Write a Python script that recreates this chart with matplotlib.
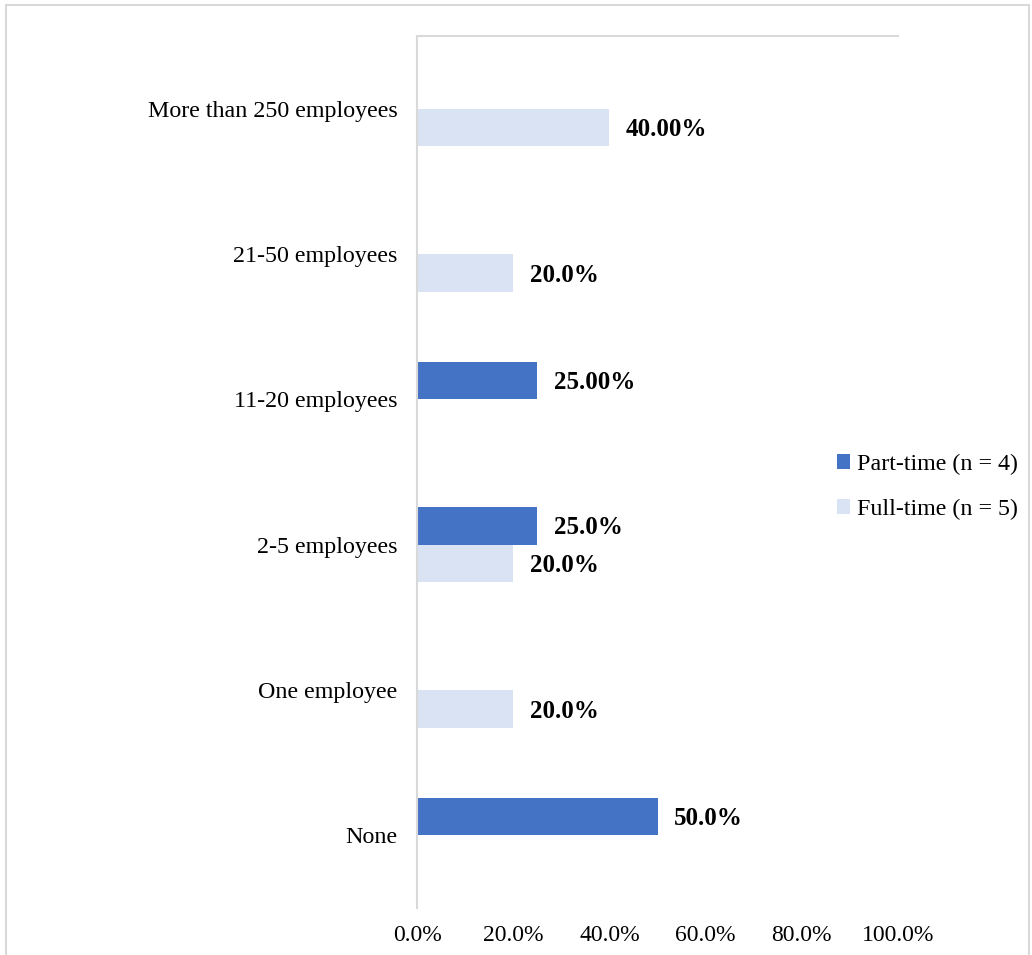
import numpy as np
import matplotlib.pyplot as plt
from matplotlib.patches import Rectangle

plt.rcParams['font.family'] = ['Liberation Serif', 'DejaVu Serif']

# Data (bottom to top)
categories = ['None', 'One employee', '2-5 employees', '11-20 employees',
              '21-50 employees', 'More than 250 employees']
part_time = [50, 0, 25, 25, 0, 0]
full_time = [0, 20, 20, 0, 20, 40]
part_labels = ['50.0%', '', '25.0%', '25.00%', '', '']
full_labels = ['', '20.0%', '20.0%', '', '20.0%', '40.00%']
x_ticks = [0, 20, 40, 60, 80, 100]
x_tick_labels = ['0.0%', '20.0%', '40.0%', '60.0%', '80.0%', '100.0%']

dark = '#4472C4'
light = '#DAE3F3'

fig = plt.figure(figsize=(10.32, 9.55), dpi=100)
ax = fig.add_axes([417 / 1032, 1 - 908 / 955, (898 - 417) / 1032, (908 - 36) / 955])

y = np.arange(len(categories))
h = 0.26
ax.barh(y + h / 2, part_time, height=h, color=dark, label='Part-time (n = 4)')
ax.barh(y - h / 2, full_time, height=h, color=light, label='Full-time (n = 5)')

for i in range(len(categories)):
    if part_labels[i]:
        ax.text(part_time[i] + 3.4, y[i] + h / 2 - 0.015, part_labels[i], va='center', ha='left',
                fontsize=18, fontweight='bold')
    if full_labels[i]:
        ax.text(full_time[i] + 3.4, y[i] - h / 2 - 0.015, full_labels[i], va='center', ha='left',
                fontsize=18, fontweight='bold')

ax.set_xlim(0, 100)
ax.set_ylim(-0.5, len(categories) - 0.5)
ax.set_xticks(x_ticks)
ax.set_xticklabels(x_tick_labels, fontsize=17)
ax.set_yticks(y)
ax.set_yticklabels(categories, fontsize=17.3)
ax.tick_params(axis='y', length=0, pad=14)
ax.tick_params(axis='x', length=0, pad=12)

for s in ['right', 'bottom']:
    ax.spines[s].set_visible(False)
for s in ['left', 'top']:
    ax.spines[s].set_color('#D9D9D9')
    ax.spines[s].set_linewidth(1.5)

fig.legend(loc='center left', bbox_to_anchor=(837 / 1032, 1 - 487 / 955), frameon=False,
           fontsize=17.3, handlelength=0.55, handleheight=0.55, handletextpad=0.3,
           labelspacing=0.98, borderpad=0, borderaxespad=0)

# chart area border
fig.patches.append(Rectangle((6 / 1032, -0.01), 1023 / 1032, 1 - 5 / 955 + 0.01,
                             transform=fig.transFigure, fill=False,
                             edgecolor='#D9D9D9', linewidth=1.5))

fig.savefig('out.png', dpi=100)
